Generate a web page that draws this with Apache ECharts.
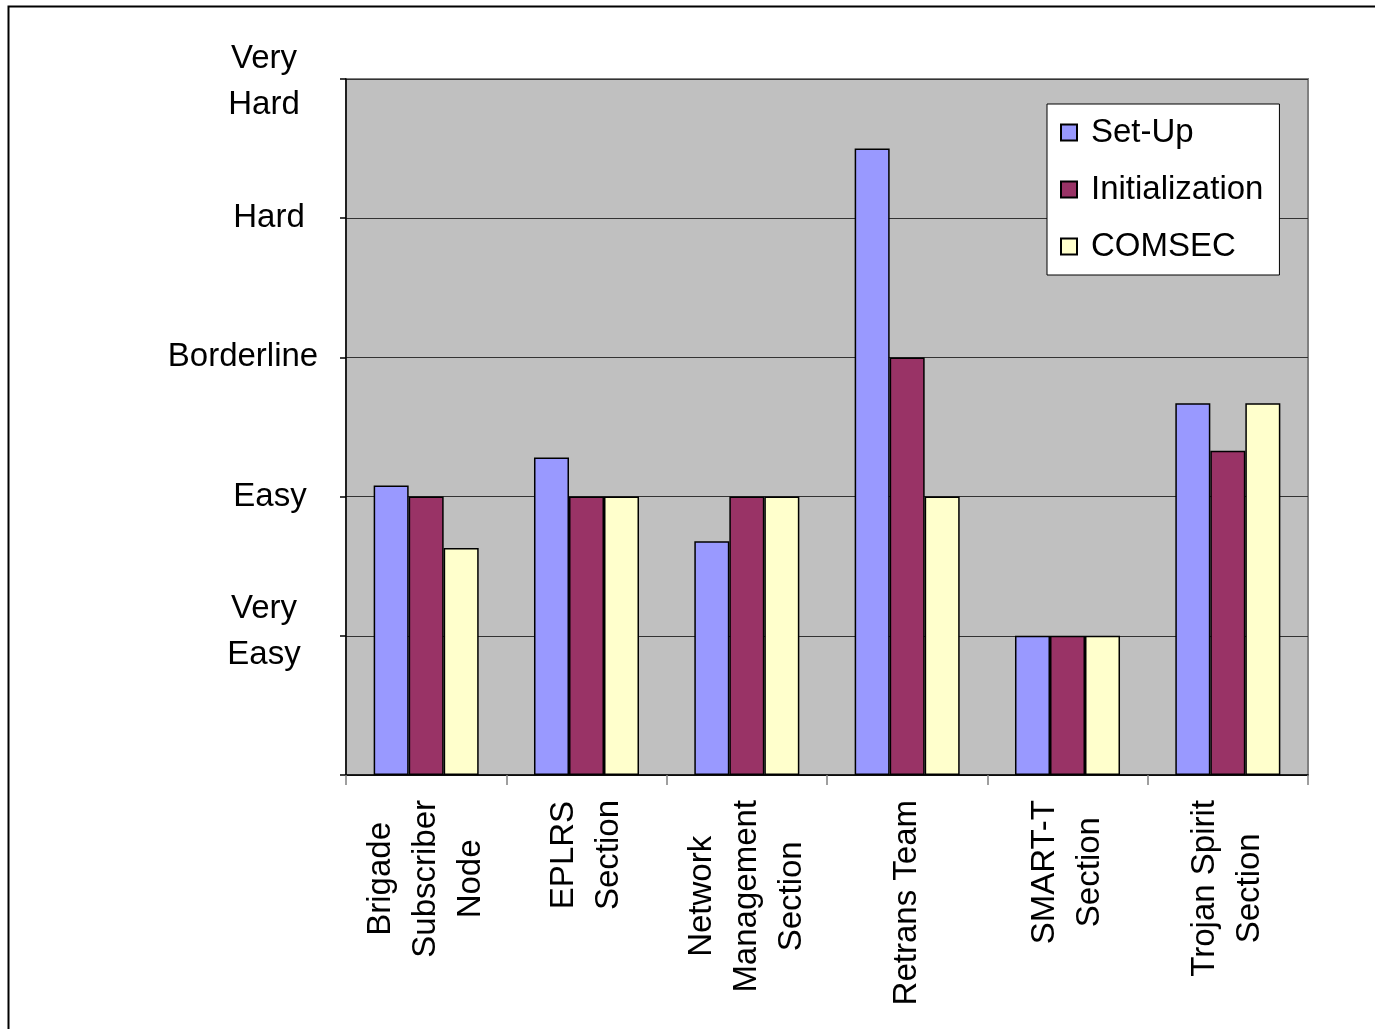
<!DOCTYPE html>
<html>
<head>
<meta charset="utf-8">
<script src="https://cdn.jsdelivr.net/npm/echarts@6/dist/echarts.min.js"></script>
<style>
html,body{margin:0;padding:0;background:#fff;}
#chart{width:1375px;height:1029px;}
</style>
</head>
<body>
<div id="chart"></div>
<script>
var categories = ['Brigade\nSubscriber\nNode', 'EPLRS\nSection', 'Network\nManagement\nSection', 'Retrans Team', 'SMART-T\nSection', 'Trojan Spirit\nSection'];
var setUp = [2.08, 2.28, 1.68, 4.5, 1, 2.67];
var initialization = [2, 2, 2, 3, 1, 2.33];
var comsec = [1.63, 2, 2, 2, 1, 2.67];
var yTickLabels = ['', 'Very\nEasy', 'Easy', 'Borderline', 'Hard', 'Very\nHard'];
var seriesNames = ['Set-Up', 'Initialization', 'COMSEC'];

var FONT = '"Liberation Sans", Arial, sans-serif';
var FS = 33;
var yStyleKey = ['e', 've', 'ea', 'b', 'h', 'vh'];

function tok(pad) {
  return {align: 'center', padding: pad, fontSize: FS, lineHeight: 46, fontFamily: FONT, color: '#000'};
}

var chart = echarts.init(document.getElementById('chart'), null, {renderer: 'canvas'});
var option = {
  backgroundColor: '#ffffff',
  animation: false,
  textStyle: {fontFamily: FONT},
  graphic: [{
    type: 'rect',
    left: 6, top: 4,
    shape: {width: 1400, height: 1100},
    style: {fill: 'none', stroke: '#000', lineWidth: 2},
    silent: true
  }],
  grid: {
    left: 346, right: 67, top: 79, bottom: 254,
    show: true, backgroundColor: '#C0C0C0', borderColor: '#808080', borderWidth: 2
  },
  legend: {
    orient: 'vertical',
    left: 1047, top: 104,
    data: seriesNames,
    backgroundColor: '#ffffff',
    borderColor: '#000', borderWidth: 1,
    padding: [12, 16, 12, 13],
    itemWidth: 16, itemHeight: 16,
    itemGap: 24,
    icon: 'rect',
    textStyle: {fontSize: FS, color: '#000', fontFamily: FONT, padding: [0, 0, 0, 9]}
  },
  xAxis: {
    type: 'category',
    data: categories,
    axisLine: {show: true, lineStyle: {color: '#000', width: 1.5}},
    axisTick: {show: true, length: 10, lineStyle: {color: '#808080', width: 1.5}},
    axisLabel: {
      interval: 0, rotate: 90, margin: 25,
      color: '#000', fontSize: FS, lineHeight: 45, fontFamily: FONT,
      formatter: function (v) {
        return v.split('\n').map(function (s) { return '{c|' + s + '}'; }).join('\n');
      },
      rich: {c: {align: 'center', fontSize: FS, lineHeight: 45, fontFamily: FONT, color: '#000'}}
    }
  },
  yAxis: {
    type: 'value',
    min: 0, max: 5, interval: 1,
    axisLine: {show: true, lineStyle: {color: '#000', width: 1.5}},
    axisTick: {show: true, length: 6, lineStyle: {color: '#000', width: 1.5}},
    splitLine: {show: true, lineStyle: {color: '#333', width: 1}},
    axisLabel: {
      align: 'center', margin: 76,
      color: '#000', fontSize: FS, lineHeight: 46, fontFamily: FONT,
      formatter: function (v) {
        var i = Math.round(v);
        var t = yTickLabels[i];
        if (!t) return '';
        var k = yStyleKey[i];
        return t.split('\n').map(function (s) { return '{' + k + '|' + s + '}'; }).join('\n');
      },
      rich: {
        vh: tok([6, 12, 0, 0]),
        h: tok([0, 2, 0, 0]),
        b: tok([0, 54, 0, 0]),
        ea: tok([0, 0, 0, 0]),
        ve: tok([0, 12, 8, 0]),
        e: tok([0, 0, 0, 0])
      }
    }
  },
  series: [
    {name: seriesNames[0], type: 'bar', data: setUp, barGap: '0%', barCategoryGap: '34.5%',
     itemStyle: {color: '#9999FF', borderColor: '#000', borderWidth: 1.5}},
    {name: seriesNames[1], type: 'bar', data: initialization, barGap: '0%', barCategoryGap: '34.5%',
     itemStyle: {color: '#993366', borderColor: '#000', borderWidth: 1.5}},
    {name: seriesNames[2], type: 'bar', data: comsec, barGap: '0%', barCategoryGap: '34.5%',
     itemStyle: {color: '#FFFFCC', borderColor: '#000', borderWidth: 1.5}}
  ]
};
chart.setOption(option);
</script>
</body>
</html>
